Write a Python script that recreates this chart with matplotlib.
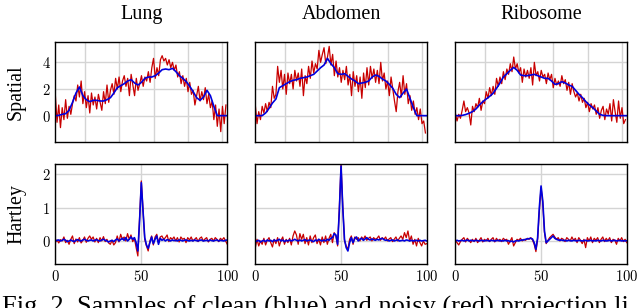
import numpy as np
import matplotlib
matplotlib.use('Agg')
import matplotlib.pyplot as plt
from matplotlib.ticker import FuncFormatter

# ---- data -------------------------------------------------------------
titles = ['Lung', 'Abdomen', 'Ribosome']
row_labels = ['Spatial', 'Hartley']

# spatial domain: noisy samples every unit, clean samples every 2 units
sp_x_noisy = np.arange(3, 103)
sp_x_clean = np.arange(3, 104, 2)

lung_clean = [0.0, 0.02, 0.1, 0.15, 0.4, 1.0, 1.7, 2.15, 1.5, 1.2,
              1.05, 1.15, 1.15, 1.1, 1.1, 1.2, 1.35, 1.7, 2.1, 2.25,
              2.4, 2.6, 2.7, 2.45, 2.3, 2.5, 2.8, 2.9, 2.9, 3.0,
              3.2, 3.45, 3.5, 3.45, 3.55, 3.3, 3.0, 2.8, 2.55, 2.2,
              1.8, 1.35, 1.15, 1.4, 1.9, 1.5, 0.7, 0.0, 0.0, 0.0, 0.0]
lung_noisy = [1.6, -0.5, 0.8, -0.9, 0.6, -0.3, 1.2, -0.2, 0.7, 0.1,
              0.9, 1.5, 1.1, 2.3, 1.4, 2.6, 0.9, 1.8, 0.6, 1.5,
              0.2, 1.7, 0.8, 1.4, 0.5, 1.6, 1.0, 0.4, 1.8, 0.9,
              2.3, 1.0, 1.9, 2.4, 1.6, 2.8, 2.0, 2.9, 1.8, 2.6,
              3.0, 2.2, 2.8, 1.5, 3.1, 2.3, 1.5, 2.8, 1.9, 2.4,
              3.0, 2.2, 2.9, 2.6, 3.3, 2.5, 3.6, 4.3, 2.8, 3.6,
              3.0, 4.2, 4.5, 4.1, 4.3, 3.8, 4.2, 3.6, 4.0, 3.4,
              3.8, 2.9, 3.3, 2.4, 3.0, 2.2, 2.8, 1.8, 2.5, 1.6,
              1.9, 0.8, 1.5, 2.2, 1.1, 1.8, 1.2, 2.1, 0.9, 1.6,
              0.6, 1.1, -0.3, 0.8, -0.8, 0.5, -1.2, 0.7, -0.6, 0.8]

abd_clean = [0.0, 0.0, 0.0, 0.2, 0.55, 0.95, 1.25, 2.1, 2.25, 2.4,
             2.55, 2.65, 2.7, 2.8, 2.85, 2.9, 3.0, 3.1, 3.35, 3.6,
             3.8, 4.3, 3.9, 3.6, 3.15, 3.1, 3.15, 2.95, 2.75, 2.6,
             2.4, 2.45, 2.5, 2.6, 2.9, 3.05, 2.95, 2.75, 2.6, 2.35,
             2.05, 1.6, 1.35, 1.7, 2.0, 1.3, 0.6, 0.0, 0.0, 0.0, 0.0]
abd_noisy = [0.8, -0.6, 0.3, -0.3, 0.7, 0.2, 0.9, 0.3, 1.0, 0.6,
             2.2, 1.3, 1.6, 3.7, 2.5, 3.4, 2.0, 3.1, 1.6, 3.2,
             2.4, 3.1, 2.0, 3.4, 2.6, 3.2, 2.2, 3.5, 1.5, 3.0,
             2.4, 3.7, 2.8, 4.1, 3.2, 3.9, 3.5, 4.9, 4.0, 4.6,
             5.1, 3.9, 4.4, 5.2, 3.8, 4.6, 3.0, 4.1, 2.9, 3.6,
             2.5, 3.4, 2.7, 3.7, 2.3, 3.1, 1.5, 3.3, 2.2, 3.0,
             1.8, 2.9, 1.3, 3.2, 2.1, 3.6, 2.3, 3.7, 2.8, 3.5,
             2.5, 3.4, 2.4, 4.0, 2.6, 3.2, 2.0, 2.6, 1.5, 2.9,
             2.0, 1.1, 0.3, 1.8, 2.5, 1.4, 3.0, 1.6, 2.4, 0.9,
             1.5, 0.4, 1.1, 0.1, 0.6, -0.3, 0.5, -0.6, -0.4, -1.3]

ribo_clean = [0.0, 0.0, 0.02, 0.08, 0.18, 0.3, 0.5, 0.8, 1.05, 1.25,
              1.45, 1.68, 2.05, 2.45, 2.9, 3.15, 3.4, 3.62, 3.4, 3.05,
              3.0, 3.0, 3.05, 3.1, 3.0, 2.9, 2.8, 2.8, 2.6, 2.35,
              2.4, 2.55, 2.45, 2.3, 2.2, 1.9, 1.6, 1.35, 1.05, 0.8,
              0.6, 0.35, 0.1, 0.02, 0.0, 0.0, 0.0, 0.0, 0.0, 0.0, 0.0]
ribo_noisy = [0.2, -0.4, 0.1, -0.2, 0.4, 1.1, 0.3, 0.6, 0.2, -0.7,
              0.7, 0.3, 0.9, 0.6, 1.3, 0.4, 1.1, 0.9, 1.8, 1.3,
              2.1, 1.5, 2.2, 1.6, 2.8, 2.2, 2.9, 2.4, 3.3, 2.7,
              3.5, 3.1, 3.9, 3.3, 4.4, 3.5, 3.9, 3.2, 3.6, 2.5,
              3.5, 2.9, 3.4, 2.8, 3.6, 2.3, 4.0, 3.0, 3.3, 2.6,
              3.4, 2.9, 3.1, 2.4, 3.2, 2.7, 3.1, 2.1, 2.8, 2.3,
              2.6, 2.2, 3.0, 2.4, 2.7, 1.9, 2.5, 1.6, 2.4, 1.8,
              1.4, 1.7, 1.1, 1.6, 1.0, 1.3, 0.6, 1.0, 0.3, 0.9,
              0.5, 0.8, 0.1, 0.6, -0.2, 0.4, 0.7, -0.3, 0.5, 0.1,
              0.9, -0.4, 1.2, 0.3, -0.5, 1.1, -0.2, 0.6, -0.6, -0.3]

# Hartley domain: samples 0..100
h_x = np.arange(0, 101)

lung_h_clean = [0.0, 0.02, 0.03, 0.0, 0.02, 0.05, 0.02, -0.02, 0.0, 0.03,
                0.0, -0.02, 0.02, 0.04, 0.01, 0.0, 0.03, 0.05, 0.02, 0.0,
                0.02, 0.03, 0.0, 0.02, 0.04, 0.01, 0.0, 0.03, 0.05, 0.02,
                0.0, -0.03, 0.0, 0.02, -0.02, 0.03, 0.06, 0.0, 0.04, 0.08,
                0.02, 0.1, 0.0, 0.05, 0.12, 0.05, 0.1, -0.05, -0.3, 0.6,
                1.75,
                0.9, 0.1, -0.12, -0.22, -0.05, 0.12, -0.08, 0.05, 0.15, -0.1,
                0.08, 0.02, 0.05, 0.0, 0.04, 0.02, 0.0, 0.03, 0.01, 0.02,
                0.0, 0.03, 0.02, 0.0, 0.02, 0.03, 0.01, 0.0, 0.02, 0.0,
                0.03, 0.01, 0.0, 0.02, 0.03, 0.0, 0.01, 0.02, 0.0, 0.03,
                0.01, 0.0, 0.02, 0.03, 0.0, 0.02, 0.01, 0.0, 0.02, 0.03]
lung_h_noisy = [-0.05, 0.03, -0.06, 0.04, 0.0, 0.12, -0.05, 0.02, -0.1, 0.05,
                0.15, -0.08, 0.06, -0.03, 0.1, -0.06, 0.02, 0.12, -0.04, 0.08,
                0.15, 0.05, 0.12, -0.03, 0.08, -0.05, 0.1, 0.0, 0.13, -0.02,
                0.05, -0.06, -0.1, 0.02, -0.12, -0.05, 0.15, -0.03, 0.2, 0.05,
                0.12, 0.0, 0.22, 0.05, 0.18, -0.02, 0.08, -0.2, -0.45, 0.7,
                1.8,
                0.95, 0.05, -0.15, -0.3, 0.0, 0.15, -0.12, 0.12, 0.2, -0.05,
                0.12, 0.15, 0.05, 0.1, 0.18, -0.02, 0.1, 0.05, 0.12, 0.0,
                0.1, -0.03, 0.12, 0.05, 0.08, -0.05, 0.1, 0.03, 0.12, 0.0,
                0.05, 0.1, -0.02, 0.08, 0.12, 0.0, 0.06, 0.1, -0.03, 0.05,
                0.08, 0.0, 0.1, 0.05, -0.02, 0.08, 0.03, 0.1, 0.0, -0.1]

abd_h_clean = [-0.02, 0.0, 0.02, -0.03, 0.0, 0.02, -0.02, 0.03, 0.0, 0.02,
               -0.02, 0.03, 0.0, 0.02, 0.05, 0.0, 0.03, -0.02, 0.02, 0.0,
               0.03, 0.0, 0.02, 0.05, 0.02, 0.0, 0.03, 0.0, 0.02, 0.04,
               0.0, 0.02, 0.03, 0.0, -0.02, 0.03, 0.0, 0.05, 0.02, 0.0,
               0.03, 0.0, 0.05, 0.02, 0.08, 0.1, 0.22, 0.18, -0.1, 0.9,
               2.25,
               1.0, 0.05, -0.2, -0.3, -0.05, 0.1, -0.05, 0.08, 0.12, 0.0,
               0.05, 0.08, 0.02, 0.06, 0.1, 0.05, 0.03, 0.06, 0.04, 0.02,
               0.05, 0.03, 0.06, 0.08, 0.04, 0.02, 0.03, 0.0, 0.02, 0.03,
               0.0, 0.02, 0.03, 0.0, 0.01, 0.02, 0.0, 0.03, 0.02, 0.0,
               0.02, 0.0, 0.01, 0.02, 0.0, 0.02, 0.0, 0.01, 0.02, 0.0]
abd_h_noisy = [-0.2, 0.05, -0.15, 0.0, -0.1, 0.08, -0.12, 0.02, 0.1, -0.05,
               -0.18, 0.05, -0.08, 0.1, -0.15, 0.02, 0.12, -0.1, 0.05, -0.05,
               0.08, -0.12, 0.15, 0.3, 0.18, -0.1, 0.22, 0.05, 0.2, -0.08,
               0.1, -0.12, 0.15, -0.05, 0.1, 0.18, -0.08, 0.05, -0.12, 0.12,
               -0.05, 0.15, -0.1, 0.08, 0.2, -0.05, 0.25, 0.15, -0.15, 1.0,
               2.3,
               1.05, 0.0, -0.15, -0.25, 0.05, 0.15, -0.1, 0.12, 0.05, 0.1,
               0.0, 0.12, 0.05, 0.15, 0.02, 0.08, 0.12, 0.0, 0.1, 0.05,
               0.08, 0.15, 0.02, 0.1, 0.05, 0.12, 0.0, 0.06, 0.1, -0.02,
               0.05, 0.12, 0.0, 0.08, 0.15, 0.05, 0.25, 0.1, 0.3, 0.0,
               0.15, -0.1, 0.05, -0.15, 0.08, -0.05, -0.15, 0.0, -0.1, -0.08]

ribo_h_clean = [0.0, 0.02, 0.0, 0.01, 0.02, 0.0, 0.01, 0.03, 0.0, 0.02,
                0.01, 0.0, 0.02, 0.01, 0.0, 0.02, 0.01, 0.0, 0.02, 0.01,
                0.0, 0.02, 0.01, 0.0, 0.01, 0.02, 0.0, 0.01, 0.0, 0.02,
                0.0, 0.01, -0.02, 0.0, -0.03, 0.0, 0.01, 0.0, 0.02, 0.03,
                0.03, 0.05, 0.06, 0.07, 0.08, 0.06, -0.05, -0.25, 0.1, 1.0,
                1.65,
                1.2, 0.3, -0.05, 0.0, 0.05, 0.1, 0.15, 0.08, 0.05, 0.03,
                0.02, 0.03, 0.01, 0.02, 0.0, 0.02, 0.01, 0.0, 0.02, 0.01,
                0.0, 0.02, 0.01, 0.0, 0.01, 0.02, 0.0, 0.01, 0.02, 0.0,
                0.01, 0.0, 0.02, 0.01, 0.0, 0.02, 0.01, 0.0, 0.01, 0.02,
                0.0, 0.01, 0.02, 0.0, 0.01, 0.02, 0.0, 0.01, 0.0, 0.01]
ribo_h_noisy = [0.02, -0.05, -0.12, -0.02, 0.05, 0.1, -0.03, 0.08, 0.02, -0.05,
                0.05, -0.02, 0.08, -0.05, 0.02, 0.1, -0.03, 0.05, 0.0, 0.08,
                -0.02, 0.05, 0.1, -0.03, 0.08, 0.0, 0.05, -0.02, 0.08, 0.03,
                0.05, -0.1, 0.0, 0.1, -0.15, -0.05, 0.05, 0.02, 0.08, 0.0,
                0.05, 0.02, 0.08, 0.05, 0.1, 0.03, -0.1, -0.32, 0.05, 0.9,
                1.6,
                1.15, 0.25, -0.08, 0.02, 0.1, 0.15, 0.2, 0.12, 0.05, 0.1,
                0.0, 0.08, 0.05, -0.02, 0.1, 0.05, 0.0, 0.12, 0.02, 0.08,
                -0.05, 0.1, 0.02, -0.08, 0.05, -0.2, 0.1, 0.0, 0.12, -0.05,
                0.08, 0.02, 0.1, -0.05, 0.05, 0.12, -0.02, 0.08, 0.0, 0.1,
                -0.05, 0.05, 0.02, -0.1, 0.08, 0.0, 0.1, -0.02, 0.05, -0.05]

spatial_clean = [lung_clean, abd_clean, ribo_clean]
spatial_noisy = [lung_noisy, abd_noisy, ribo_noisy]
hartley_clean = [lung_h_clean, abd_h_clean, ribo_h_clean]
hartley_noisy = [lung_h_noisy, abd_h_noisy, ribo_h_noisy]

sp_xticks = [20, 40, 60, 80, 100]
sp_yticks = [0, 2, 4]
h_xticks = [0, 50, 100]
h_yticks = [0, 1, 2]

caption = 'Fig. 2. Samples of clean (blue) and noisy (red) projection li'

# ---- figure -----------------------------------------------------------
W, H = 640, 308
plt.rcParams['mathtext.fontset'] = 'cm'
fig = plt.figure(figsize=(W / 100, H / 100), dpi=100)

RED = '#c80000'
BLUE = '#0000dd'
GRID = '#d4d4d4'
serif = ['Liberation Serif', 'DejaVu Serif']

col_left = [55.3, 255.3, 455.3]
col_w = [172.0, 171.5, 171.5]
row_top = [41.7, 164.3]
row_h = [100.6, 100.0]

math_fmt = FuncFormatter(lambda v, pos: r'$%d$' % v)


def make_axes(col, row):
    l = col_left[col] / W
    b = (H - row_top[row] - row_h[row]) / H
    return fig.add_axes([l, b, col_w[col] / W, row_h[row] / H])


def style(ax, show_y, show_x):
    for s in ax.spines.values():
        s.set_linewidth(1.0)
        s.set_color('black')
    ax.grid(True, color=GRID, linewidth=1.0)
    ax.set_axisbelow(True)
    ax.tick_params(length=0, labelsize=10.5, pad=3.5)
    ax.xaxis.set_major_formatter(math_fmt)
    ax.yaxis.set_major_formatter(math_fmt)
    if not show_y:
        ax.tick_params(labelleft=False)
    if not show_x:
        ax.tick_params(labelbottom=False)


for i in range(3):
    ax = make_axes(i, 0)
    ax.plot(sp_x_noisy, spatial_noisy[i], color=RED, lw=0.9)
    ax.plot(sp_x_clean, spatial_clean[i], color=BLUE, lw=1.2)
    ax.set_xlim(3, 102.8)
    ax.set_ylim(-2, 5.55)
    ax.set_xticks(sp_xticks)
    ax.set_yticks(sp_yticks)
    style(ax, i == 0, False)
    ax.set_title(titles[i], fontsize=14.5, family=serif, pad=16)

    ax = make_axes(i, 1)
    ax.plot(h_x, hartley_noisy[i], color=RED, lw=0.9)
    ax.plot(h_x, hartley_clean[i], color=BLUE, lw=1.2)
    ax.set_xlim(0, 100)
    ax.set_ylim(-0.7, 2.3)
    ax.set_xticks(h_xticks)
    ax.set_yticks(h_yticks)
    style(ax, i == 0, True)

for r, lab in enumerate(row_labels):
    yc = row_top[r] + row_h[r] / 2
    fig.text(16.5 / W, 1 - yc / H, lab, rotation=90, ha='center', va='center',
             fontsize=14.3, family=serif)

fig.text(2 / W, 1 - 314 / H, caption, ha='left', va='baseline',
         fontsize=19, family=serif)

fig.savefig('out.png', dpi=100)
